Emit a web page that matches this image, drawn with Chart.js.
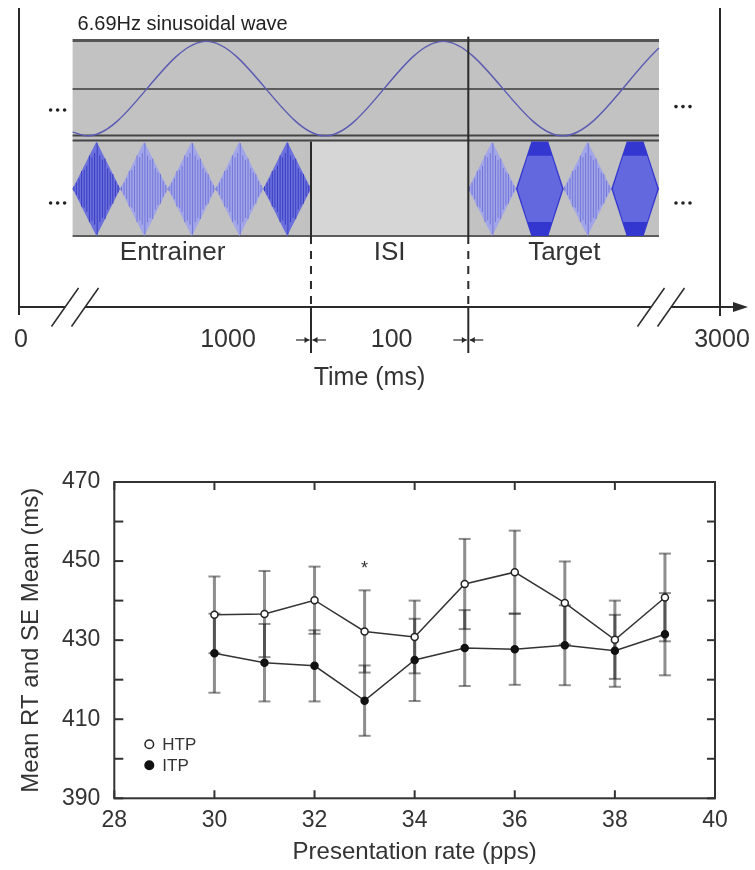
<!DOCTYPE html>
<html>
<head>
<meta charset="utf-8">
<script src="https://cdn.jsdelivr.net/npm/chart.js@4.4.1/dist/chart.umd.min.js"></script>
<style>
  html, body { margin: 0; padding: 0; background: #fff; }
  canvas { display: block; }
</style>
</head>
<body>
<canvas id="stimulus" width="755" height="420"></canvas>
<canvas id="rt" width="755" height="450"></canvas>
<script>
// ---- top panel: stimulus schematic ----
// sine extrema (ms, band level); the line is drawn by chart.js
const sineTimes  = [848.5, 858, 933.5, 1009, 1084, 1160, 1221.2];
const sineLevels = [1.10, 1.06, 2.06, 1.06, 2.06, 1.06, 1.99];
const entrainerEnd = 1000;   // ms
const isiLength = 100;       // ms
const toneRate = 33;         // pps
const entrainerShades = ['dark', 'light', 'light', 'light', 'dark'];
const targetShades = ['light', 'loud', 'light', 'loud'];
const phaseLabels = ['Entrainer', 'ISI', 'Target'];
const timeLabels = ['0', '1000', '100', '3000'];

// ---- bottom panel: RT data ----
const rates   = [30, 31, 32, 33, 34, 35, 36, 37, 38, 39];
const htpMean = [436.4, 436.6, 440.1, 432.2, 430.8, 444.2, 447.2, 439.4, 430.1, 440.8];
const htpSE   = [9.7, 10.9, 8.5, 10.4, 9.2, 11.4, 10.5, 10.5, 9.9, 11.1];
const itpMean = [426.7, 424.3, 423.5, 414.7, 425.0, 428.0, 427.7, 428.7, 427.3, 431.5];
const itpSE   = [10.0, 9.8, 9.0, 8.9, 10.4, 9.6, 9.0, 10.1, 9.1, 10.4];
const starredRates = [33];
const rateTicks = [28, 30, 32, 34, 36, 38, 40];
const rtTicks = [390, 410, 430, 450, 470];

const FONT = '"Liberation Sans", Arial, sans-serif';
const INK = '#333';

function line(ctx, x0, y0, x1, y1) {
  ctx.beginPath(); ctx.moveTo(x0, y0); ctx.lineTo(x1, y1); ctx.stroke();
}

function diamond(ctx, x0, x1, yc, half) {
  const xm = (x0 + x1) / 2;
  ctx.beginPath();
  ctx.moveTo(x0, yc); ctx.lineTo(xm, yc - half); ctx.lineTo(x1, yc); ctx.lineTo(xm, yc + half);
  ctx.closePath();
}

// one amplitude-modulated tone burst
function burst(ctx, x0, x1, yTop, yBot, shade) {
  const yc = (yTop + yBot) / 2, half = (yBot - yTop) / 2;
  ctx.save();
  ctx.beginPath(); ctx.rect(x0 - 1, yTop, x1 - x0 + 2, yBot - yTop); ctx.clip();
  if (shade === 'loud') {
    diamond(ctx, x0, x1, yc, half * 1.55);
    ctx.fillStyle = '#3337cf'; ctx.fill();
    ctx.beginPath(); ctx.rect(x0, yc - half * 0.7, x1 - x0, half * 1.4); ctx.clip();
    diamond(ctx, x0 + 1.5, x1 - 1.5, yc, half * 1.5);
    ctx.fillStyle = '#6468df'; ctx.fill();
  } else {
    const base = shade === 'dark' ? '#6b70dc' : '#a2a5e8';
    const stripe = shade === 'dark' ? '#383dc2' : '#7276d8';
    diamond(ctx, x0, x1, yc, half);
    ctx.fillStyle = base; ctx.fill();
    const xm = (x0 + x1) / 2, w = (x1 - x0) / 2;
    ctx.strokeStyle = stripe; ctx.lineWidth = 1;
    let k = 0;
    for (let px = x0 + 1.2; px < x1; px += 2.6, k++) {
      const h = half * (1 - Math.abs(px - xm) / w) * (k % 3 === 0 ? 1 : 0.82);
      line(ctx, px, yc - h, px, yc + h);
    }
  }
  ctx.restore();
}

const schematic = {
  id: 'schematic',
  beforeDatasetsDraw(chart) {
    const { ctx, scales: { x, y } } = chart;
    const X = t => x.getPixelForValue(t), Y = v => y.getPixelForValue(v);
    const period = 1000 / toneRate;
    const boxStart = entrainerEnd - entrainerShades.length * period;
    const isiEnd = entrainerEnd + isiLength;
    const boxEnd = isiEnd + targetShades.length * period;
    ctx.save();
    ctx.fillStyle = '#c2c2c2';
    ctx.fillRect(X(boxStart), Y(2.08), X(boxEnd) - X(boxStart), Y(0) - Y(2.08));
    ctx.fillStyle = '#d6d6d6';
    ctx.fillRect(X(entrainerEnd), Y(1), X(isiEnd) - X(entrainerEnd), Y(0) - Y(1));

    const rule = (v, w, c) => { ctx.strokeStyle = c; ctx.lineWidth = w; line(ctx, X(boxStart), Y(v), X(boxEnd), Y(v)); };
    rule(2.07, 3, '#555');
    rule(1.556, 2, '#5c5c5c');
    rule(1.065, 2, '#444');
    rule(1.01, 2, '#444');
    rule(0, 2, '#5c5c5c');

    // carrier centre line
    ctx.strokeStyle = '#5c5cb0'; ctx.lineWidth = 1.2;
    line(ctx, X(boxStart), Y(0.5), X(entrainerEnd), Y(0.5));
    line(ctx, X(isiEnd), Y(0.5), X(boxEnd), Y(0.5));

    entrainerShades.forEach((s, i) => burst(ctx, X(boxStart + i * period), X(boxStart + (i + 1) * period), Y(1), Y(0), s));
    targetShades.forEach((s, i) => burst(ctx, X(isiEnd + i * period), X(isiEnd + (i + 1) * period), Y(1), Y(0), s));
    ctx.restore();
  },
  afterDraw(chart) {
    const { ctx, chartArea: a, scales: { x, y } } = chart;
    const X = t => x.getPixelForValue(t), Y = v => y.getPixelForValue(v);
    const period = 1000 / toneRate;
    const boxStart = entrainerEnd - entrainerShades.length * period;
    const isiEnd = entrainerEnd + isiLength;
    const boxEnd = isiEnd + targetShades.length * period;
    const axisY = a.bottom;
    ctx.save();
    ctx.strokeStyle = '#2a2a2a'; ctx.fillStyle = '#2a2a2a';

    // phase boundaries + converging arrows
    const arrow = (from, to, yy) => {
      ctx.lineWidth = 1.2; ctx.setLineDash([]);
      line(ctx, from, yy, to, yy);
      const d = Math.sign(to - from);
      ctx.beginPath(); ctx.moveTo(to, yy); ctx.lineTo(to - d * 5, yy - 3); ctx.lineTo(to - d * 5, yy + 3); ctx.closePath(); ctx.fill();
    };
    [[entrainerEnd, 1.0], [isiEnd, 2.11]].forEach(([t, top]) => {
      const px = X(t);
      ctx.lineWidth = 2; ctx.setLineDash([]);
      line(ctx, px, Y(top), px, Y(0));
      ctx.setLineDash([8, 7]);
      line(ctx, px, Y(0), px, axisY);
      ctx.setLineDash([]);
      line(ctx, px, axisY, px, axisY + 46);
      arrow(px - 15, px - 1.5, 340);
      arrow(px + 15, px + 1.5, 340);
    });

    // frame and time axis
    ctx.lineWidth = 2;
    line(ctx, a.left, 8, a.left, axisY + 8);
    line(ctx, a.right, 8, a.right, axisY + 9);
    line(ctx, a.left, axisY, a.right + 14, axisY);
    ctx.beginPath();
    ctx.moveTo(a.right + 13, axisY - 5); ctx.lineTo(a.right + 28, axisY); ctx.lineTo(a.right + 13, axisY + 5);
    ctx.closePath(); ctx.fill();

    // axis breaks
    [a.left + 56, a.right - 59].forEach(cx => {
      ctx.fillStyle = '#fff';
      ctx.fillRect(cx - 10, axisY - 2, 20, 4);
      ctx.lineWidth = 1.5;
      [-10, 10].forEach(dx => line(ctx, cx + dx - 13.5, axisY + 19.5, cx + dx + 13.5, axisY - 19));
    });

    // continuation dots
    ctx.fillStyle = '#222';
    const dots = (cx, cy) => [-7, 0, 7].forEach(d => { ctx.beginPath(); ctx.arc(cx + d, cy, 1.8, 0, Math.PI * 2); ctx.fill(); });
    dots(X(boxStart) - 15, Y(1.334));
    dots(X(boxStart) - 15, Y(0.35));
    dots(X(boxEnd) + 24, Y(1.37));
    dots(X(boxEnd) + 24, Y(0.35));

    // texts
    ctx.fillStyle = '#222';
    ctx.font = '20px ' + FONT;
    ctx.textAlign = 'left'; ctx.textBaseline = 'middle';
    ctx.fillText('6.69Hz sinusoidal wave', X(boxStart) + 5, 24);

    ctx.fillStyle = INK;
    ctx.font = '26px ' + FONT;
    ctx.textAlign = 'center';
    const phaseAt = [entrainerEnd - 88, entrainerEnd + isiLength / 2, isiEnd + 61];
    phaseLabels.forEach((s, i) => ctx.fillText(s, X(phaseAt[i]), 253));

    ctx.font = '25px ' + FONT;
    const labelAt = [x.min, entrainerEnd - 54, entrainerEnd + isiLength / 2, x.max];
    timeLabels.forEach((s, i) => ctx.fillText(s, X(labelAt[i]) + 2, 340));
    ctx.fillText('Time (ms)', (a.left + a.right) / 2, 378);
    ctx.restore();
  }
};

new Chart(document.getElementById('stimulus'), {
  type: 'line',
  data: {
    datasets: [{
      label: '6.69Hz sinusoidal wave',
      data: sineTimes.map((t, i) => ({ x: t, y: sineLevels[i] })),
      borderColor: '#5b5bb2',
      borderWidth: 1.4,
      pointRadius: 0,
      cubicInterpolationMode: 'monotone'
    }]
  },
  options: {
    responsive: false,
    animation: false,
    layout: { padding: { left: 19, right: 35, top: 39, bottom: 113 } },
    plugins: { legend: { display: false }, tooltip: { enabled: false } },
    scales: {
      x: { type: 'linear', display: false, min: 814.4, max: 1260 },
      y: { type: 'linear', display: false, min: -0.75, max: 2.085 }
    }
  },
  plugins: [schematic]
});

// ---- bottom chart ----
const rtDecor = {
  id: 'rtDecor',
  beforeDatasetsDraw(chart) {
    const { ctx, scales: { x, y } } = chart;
    ctx.save();
    ctx.strokeStyle = 'rgba(30,30,30,0.5)';
    [[htpMean, htpSE], [itpMean, itpSE]].forEach(([m, s]) => {
      rates.forEach((r, i) => {
        const px = x.getPixelForValue(r);
        const top = y.getPixelForValue(m[i] + s[i]);
        const bot = y.getPixelForValue(m[i] - s[i]);
        ctx.lineWidth = 3;
        line(ctx, px, top, px, bot);
        ctx.lineWidth = 2;
        line(ctx, px - 6, top, px + 6, top);
        line(ctx, px - 6, bot, px + 6, bot);
      });
    });
    ctx.restore();
  },
  afterDraw(chart) {
    const { ctx, chartArea: a, scales: { x, y } } = chart;
    ctx.save();
    ctx.strokeStyle = '#333';
    ctx.lineWidth = 2;
    ctx.strokeRect(a.left, a.top, a.right - a.left, a.bottom - a.top);
    // inward ticks on all four sides
    x.ticks.forEach(t => {
      const px = x.getPixelForValue(t.value);
      line(ctx, px, a.bottom, px, a.bottom - 8);
      line(ctx, px, a.top, px, a.top + 8);
    });
    y.ticks.forEach(t => {
      const py = y.getPixelForValue(t.value);
      line(ctx, a.left, py, a.left + 9, py);
      line(ctx, a.right, py, a.right - 8, py);
    });
    // legend
    const lx = a.left + 35, ly = a.bottom - 54;
    chart.data.datasets.forEach((ds, i) => {
      const cy = ly + i * 21;
      ctx.beginPath(); ctx.arc(lx, cy, 4.3, 0, Math.PI * 2);
      ctx.fillStyle = ds.pointBackgroundColor; ctx.fill();
      ctx.lineWidth = 1.5; ctx.strokeStyle = ds.pointBorderColor; ctx.stroke();
      ctx.fillStyle = INK;
      ctx.font = '17px ' + FONT;
      ctx.textAlign = 'left'; ctx.textBaseline = 'middle';
      ctx.fillText(ds.label, lx + 13, cy + 1);
    });
    // significance mark
    ctx.fillStyle = INK;
    ctx.font = '18px ' + FONT;
    ctx.textAlign = 'center'; ctx.textBaseline = 'alphabetic';
    starredRates.forEach(r => {
      const i = rates.indexOf(r);
      ctx.fillText('*', x.getPixelForValue(r), y.getPixelForValue(htpMean[i] + htpSE[i]) - 16);
    });
    ctx.restore();
  }
};

new Chart(document.getElementById('rt'), {
  type: 'line',
  data: {
    datasets: [
      {
        label: 'HTP',
        data: rates.map((r, i) => ({ x: r, y: htpMean[i] })),
        borderColor: '#333', borderWidth: 1.5,
        pointRadius: 3.5, pointBackgroundColor: '#fff', pointBorderColor: '#222', pointBorderWidth: 1.5
      },
      {
        label: 'ITP',
        data: rates.map((r, i) => ({ x: r, y: itpMean[i] })),
        borderColor: '#333', borderWidth: 1.5,
        pointRadius: 3.5, pointBackgroundColor: '#111', pointBorderColor: '#111', pointBorderWidth: 1.5
      }
    ]
  },
  options: {
    responsive: false,
    animation: false,
    layout: { padding: { left: 0, right: 40, top: 62, bottom: 0 } },
    plugins: { legend: { display: false }, tooltip: { enabled: false } },
    scales: {
      x: {
        type: 'linear', min: 28, max: 40,
        afterBuildTicks: s => { s.ticks = rateTicks.map(v => ({ value: v })); },
        ticks: { color: INK, font: { family: FONT, size: 23 }, padding: 9, maxRotation: 0 },
        grid: { display: false, drawTicks: false },
        border: { display: false },
        title: { display: true, text: 'Presentation rate (pps)', color: INK, font: { family: FONT, size: 24 }, padding: { top: 0, bottom: 3 } },
        afterFit: s => { s.height = 71.7; }
      },
      y: {
        type: 'linear', min: 390, max: 470,
        ticks: { stepSize: 10, color: INK, font: { family: FONT, size: 23 }, padding: 14,
                 callback: v => rtTicks.includes(v) ? v : '' },
        grid: { display: false, drawTicks: false },
        border: { display: false },
        title: { display: true, text: 'Mean RT and SE Mean (ms)', color: INK, font: { family: FONT, size: 24 }, padding: { top: 17, bottom: 0 } },
        afterFit: s => { s.width = 114.3; }
      }
    }
  },
  plugins: [rtDecor]
});
</script>
</body>
</html>
